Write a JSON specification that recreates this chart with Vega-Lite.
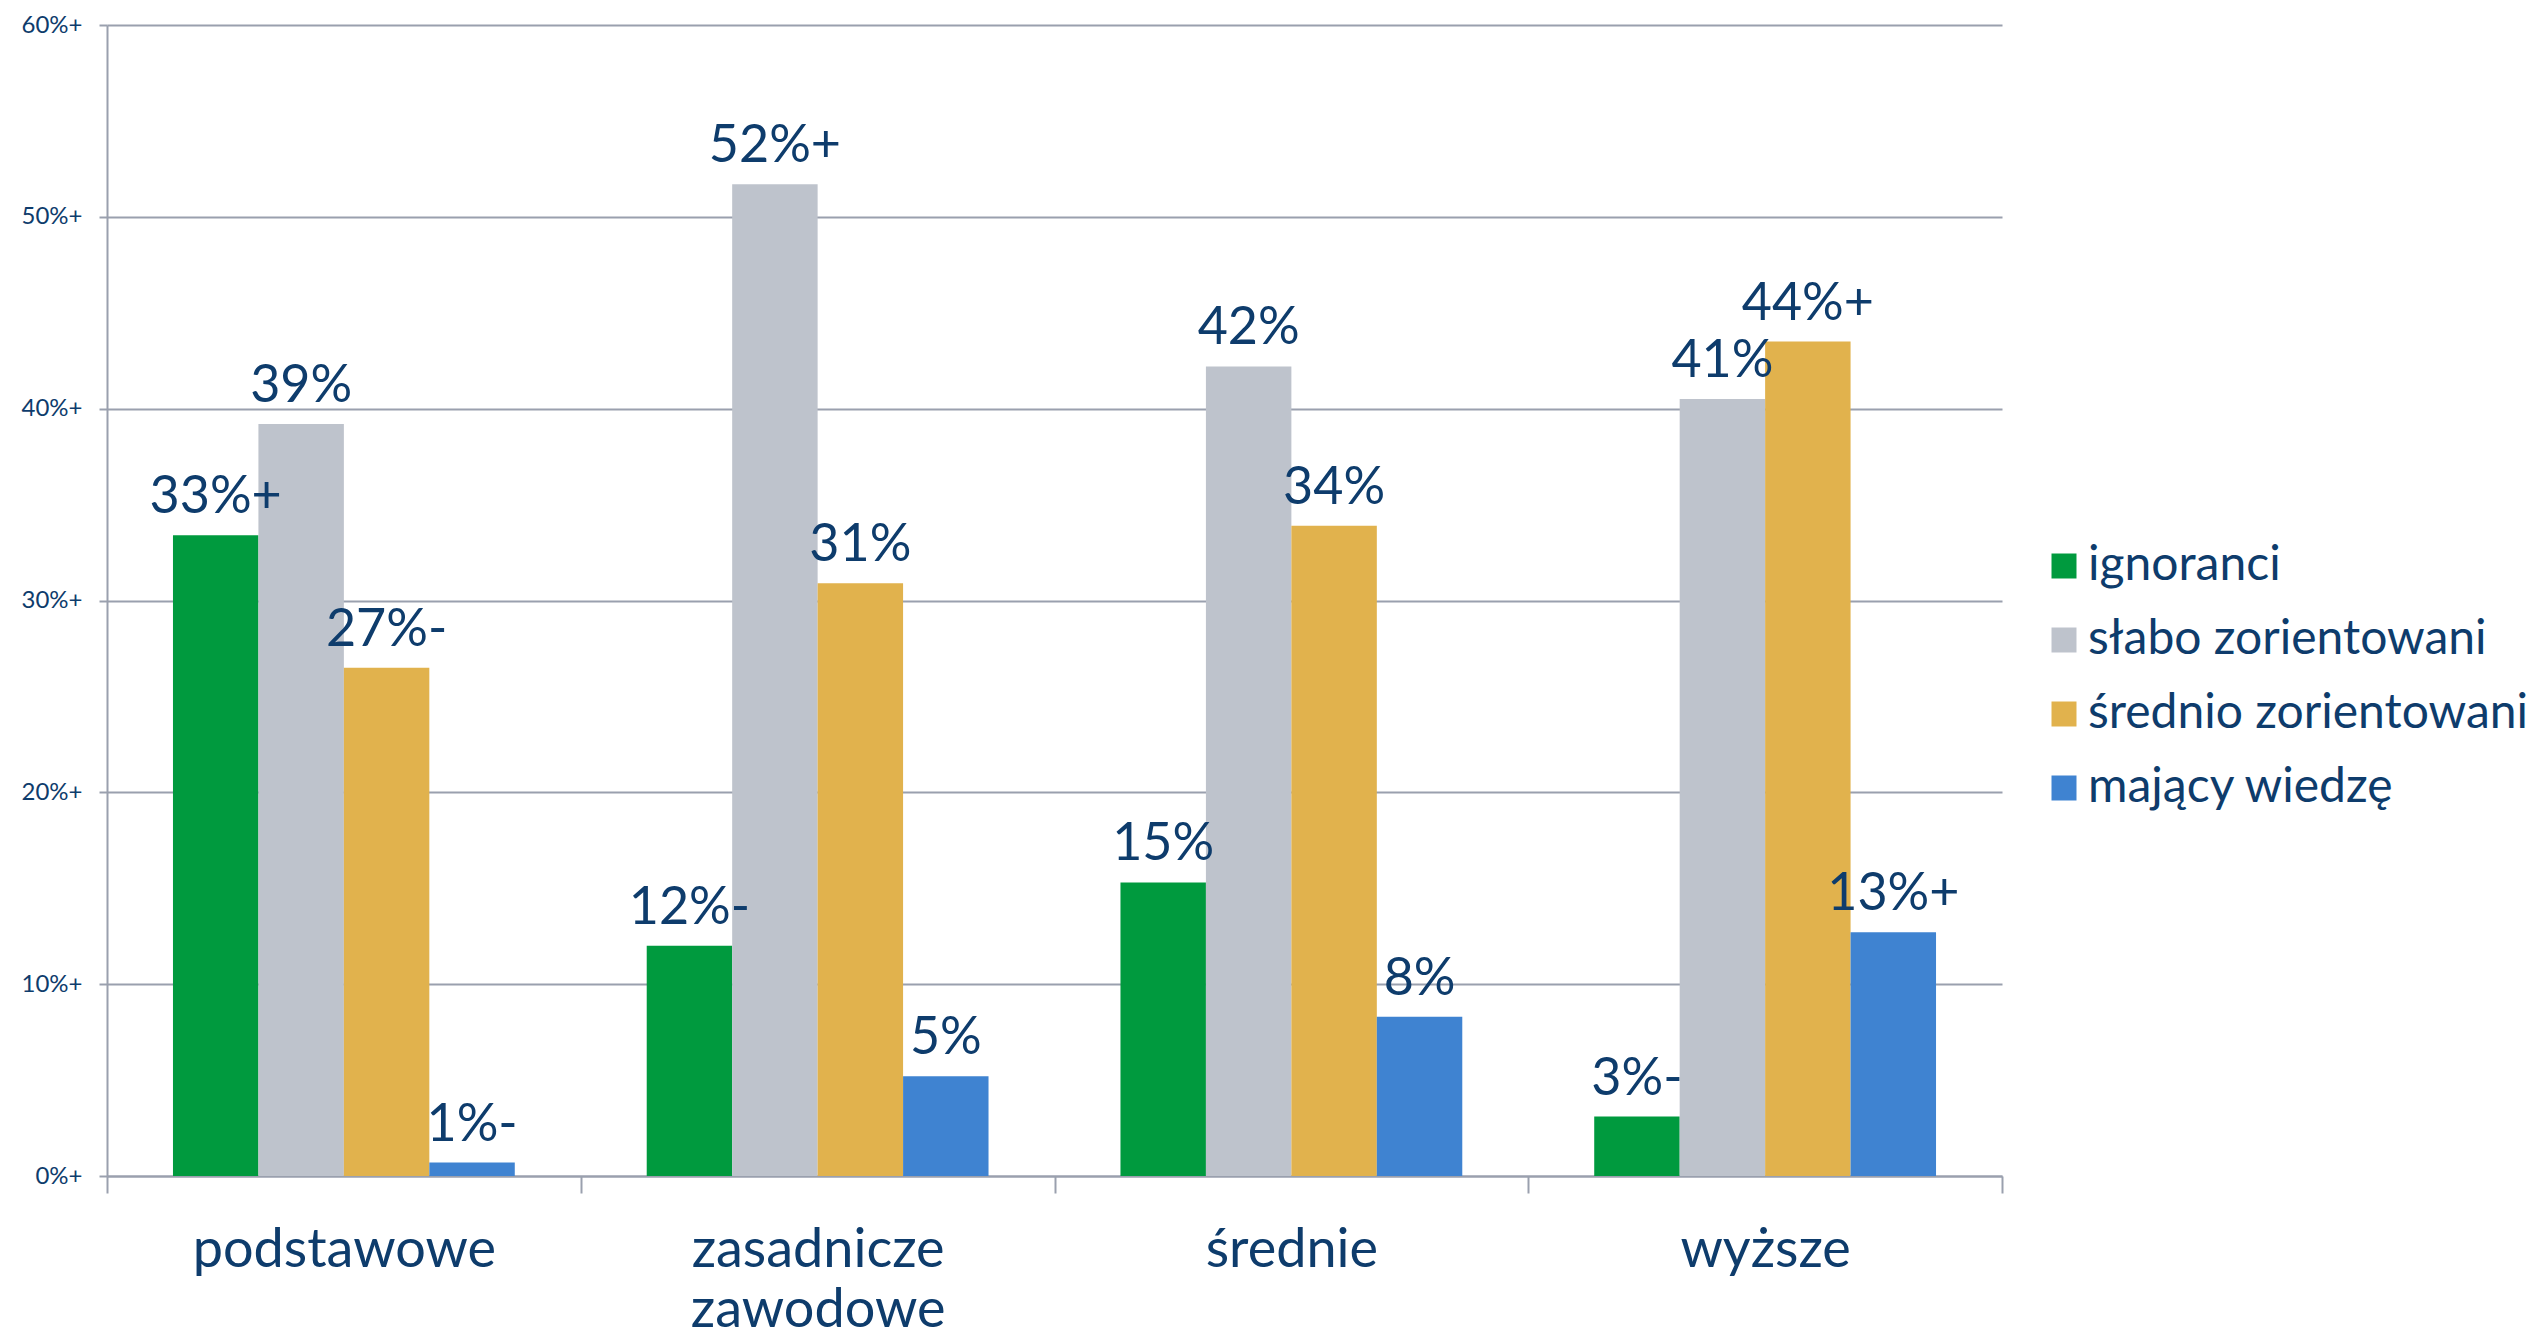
{
  "$schema": "https://vega.github.io/schema/vega-lite/v6.json",
  "width": 1895,
  "height": 1151,
  "autosize": {"type": "none"},
  "padding": {"left": 107, "top": 25, "right": 535, "bottom": 155},
  "background": "white",
  "config": {"font": "Lato", "view": {"stroke": null}},
  "data": {"values": [
    {"edu": "podstawowe", "series": "ignoranci", "value": 33.4, "label": "33%+"},
    {"edu": "podstawowe", "series": "słabo zorientowani", "value": 39.2, "label": "39%"},
    {"edu": "podstawowe", "series": "średnio zorientowani", "value": 26.5, "label": "27%-"},
    {"edu": "podstawowe", "series": "mający wiedzę", "value": 0.7, "label": "1%-"},
    {"edu": "zasadnicze zawodowe", "series": "ignoranci", "value": 12.0, "label": "12%-"},
    {"edu": "zasadnicze zawodowe", "series": "słabo zorientowani", "value": 51.7, "label": "52%+"},
    {"edu": "zasadnicze zawodowe", "series": "średnio zorientowani", "value": 30.9, "label": "31%"},
    {"edu": "zasadnicze zawodowe", "series": "mający wiedzę", "value": 5.2, "label": "5%"},
    {"edu": "średnie", "series": "ignoranci", "value": 15.3, "label": "15%"},
    {"edu": "średnie", "series": "słabo zorientowani", "value": 42.2, "label": "42%"},
    {"edu": "średnie", "series": "średnio zorientowani", "value": 33.9, "label": "34%"},
    {"edu": "średnie", "series": "mający wiedzę", "value": 8.3, "label": "8%"},
    {"edu": "wyższe", "series": "ignoranci", "value": 3.1, "label": "3%-"},
    {"edu": "wyższe", "series": "słabo zorientowani", "value": 40.5, "label": "41%"},
    {"edu": "wyższe", "series": "średnio zorientowani", "value": 43.5, "label": "44%+"},
    {"edu": "wyższe", "series": "mający wiedzę", "value": 12.7, "label": "13%+"}
  ]},
  "encoding": {
    "x": {
      "field": "edu", "type": "nominal",
      "sort": ["podstawowe", "zasadnicze zawodowe", "średnie", "wyższe"],
      "scale": {"paddingInner": 0, "paddingOuter": 0},
      "axis": {
        "title": null, "labelAngle": 0, "labelFontSize": 54, "labelColor": "#0e3c6c",
        "labelPadding": 30, "labelLineHeight": 60, "labelLimit": 450,
        "labelExpr": "datum.value == 'zasadnicze zawodowe' ? ['zasadnicze', 'zawodowe'] : datum.value",
        "tickBand": "extent", "tickSize": 17, "tickColor": "#9aa0ae", "tickWidth": 2,
        "domainColor": "#9aa0ae", "domainWidth": 2, "grid": false
      }
    },
    "xOffset": {"field": "series", "type": "nominal",
      "sort": ["ignoranci", "słabo zorientowani", "średnio zorientowani", "mający wiedzę"],
      "scale": {"paddingInner": 0, "paddingOuter": 0.772}},
    "y": {
      "field": "value", "type": "quantitative",
      "scale": {"domain": [0, 60], "nice": false},
      "axis": {
        "title": null, "values": [0, 10, 20, 30, 40, 50, 60],
        "labelExpr": "datum.value + '%+'", "labelFontSize": 24, "labelColor": "#0e3c6c",
        "labelPadding": 17, "tickSize": 8, "tickColor": "#9aa0ae", "tickWidth": 2,
        "domainColor": "#9aa0ae", "domainWidth": 2,
        "grid": true, "gridColor": "#9aa0ae", "gridWidth": 2
      }
    }
  },
  "layer": [
    {
      "mark": {"type": "bar"},
      "encoding": {
        "color": {
          "field": "series", "type": "nominal",
          "scale": {
            "domain": ["ignoranci", "słabo zorientowani", "średnio zorientowani", "mający wiedzę"],
            "range": ["#009a3e", "#bec3cc", "#e1b24d", "#3f83d1"]
          },
          "legend": {
            "title": null, "orient": "none", "legendX": 1933, "legendY": 517,
            "symbolType": "square", "symbolSize": 625, "symbolStrokeWidth": 0,
            "labelFontSize": 48, "labelColor": "#0e3c6c", "labelOffset": 0,
            "rowPadding": 26, "labelLimit": 600
          }
        }
      }
    },
    {
      "mark": {"type": "text", "fontSize": 52, "dy": -22, "baseline": "alphabetic", "color": "#0e3c6c"},
      "encoding": {"text": {"field": "label"}}
    }
  ]
}
